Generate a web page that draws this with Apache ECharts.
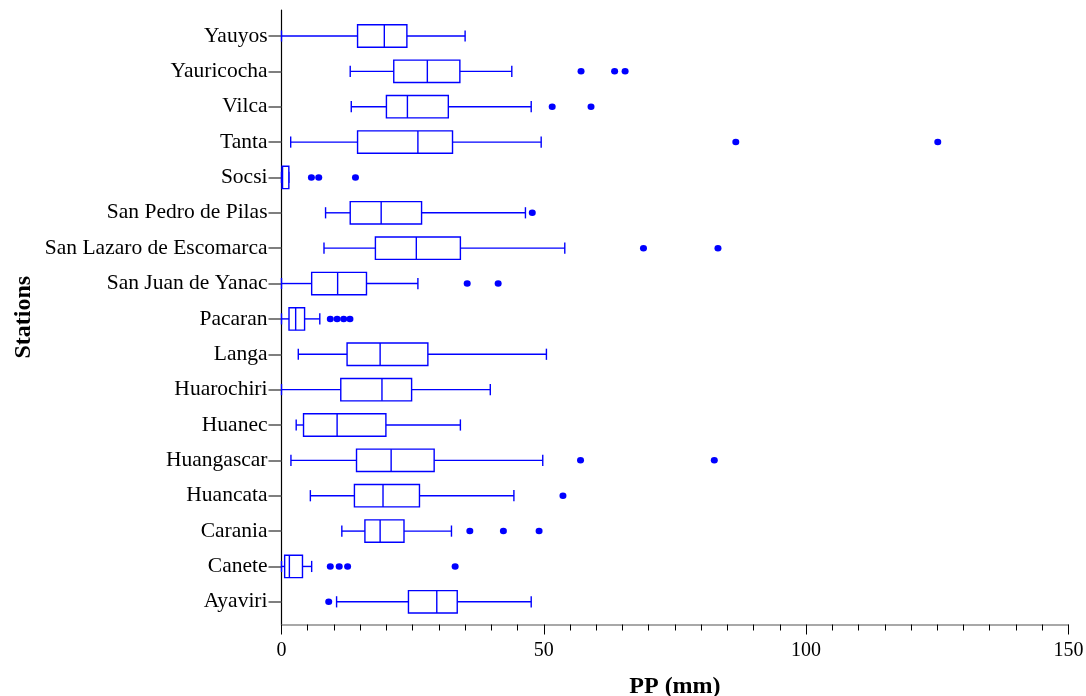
<!DOCTYPE html>
<html>
<head>
<meta charset="utf-8">
<script src="https://cdn.jsdelivr.net/npm/echarts@6/dist/echarts.min.js"></script>
<style>html,body{margin:0;padding:0;background:#fff;}#c{width:1086px;height:696px;}</style>
</head>
<body>
<div id="c"></div>
<script>
var stations = ['Ayaviri','Canete','Carania','Huancata','Huangascar','Huanec','Huarochiri','Langa','Pacaran','San Juan de Yanac','San Lazaro de Escomarca','San Pedro de Pilas','Socsi','Tanta','Vilca','Yauricocha','Yauyos'];
var lows    = [10.5, 0,   11.5, 5.5,  1.8,  2.8,  0,     3.2,  0,    0,    8.1,  8.4,  0,   1.75, 13.3, 13.1, 0];
var q1s     = [24.2, 0.6, 15.9, 13.9, 14.3, 4.2,  11.3,  12.5, 1.43, 5.75, 17.9, 13.1, 0.1, 14.5, 20.0, 21.4, 14.5];
var medians = [29.6, 1.5, 18.8, 19.35,20.9, 10.6, 19.15, 18.8, 2.7,  10.7, 25.7, 19.0, 0.2, 26.0, 24.0, 27.8, 19.6];
var q3s     = [33.5, 4.0, 23.35,26.3, 29.1, 19.9, 24.8,  27.9, 4.4,  16.2, 34.1, 26.7, 1.4, 32.6, 31.8, 34.0, 23.9];
var highs   = [47.6, 5.75,32.4, 44.3, 49.8, 34.1, 39.8,  50.5, 7.3,  26.0, 54.0, 46.5, 1.4, 49.5, 47.6, 43.9, 35.0];
var outliers = [
  [9.0],
  [9.3, 11.0, 12.6, 33.1],
  [35.9, 42.3, 49.1],
  [53.65],
  [57.0, 82.5],
  [],
  [],
  [],
  [9.3, 10.6, 11.85, 13.05],
  [35.4, 41.3],
  [69.0, 83.2],
  [47.8],
  [5.7, 7.1, 14.1],
  [86.6, 125.1],
  [51.6, 59.0],
  [57.1, 63.5, 65.5],
  []
];
var xTicks = [0, 50, 100, 150];

var boxData = stations.map(function (s, i) {
  return [i, lows[i], q1s[i], medians[i], q3s[i], highs[i]];
});
var outData = [];
outliers.forEach(function (arr, i) {
  arr.forEach(function (v) { outData.push([v, i]); });
});

var BLUE = '#0000ff';
var FONT = 'Liberation Serif';
var L = 281.5, W = 786.9;

var chart = echarts.init(document.getElementById('c'), null, {renderer: 'canvas'});
chart.setOption({
  animation: false,
  backgroundColor: '#fff',
  grid: [
    {left: L, width: W, top: 18.3, height: 601.2, containLabel: false, outerBoundsMode: 'none'},
    {left: L, width: W, top: 10, height: 614.5, containLabel: false, outerBoundsMode: 'none'}
  ],
  xAxis: [
    {gridIndex: 0, type: 'value', min: xTicks[0], max: xTicks[xTicks.length - 1], show: false},
    {gridIndex: 1, type: 'value', min: xTicks[0], max: xTicks[xTicks.length - 1], interval: 50,
      axisLine: {show: true, lineStyle: {color: '#8c8c8c', width: 1.5}},
      axisTick: {show: true, length: 10, lineStyle: {color: '#000', width: 1}},
      minorTick: {show: true, splitNumber: 10, length: 6, lineStyle: {color: '#000', width: 1}},
      splitLine: {show: false},
      axisLabel: {fontFamily: FONT, fontSize: 20, color: '#000', margin: 16},
      name: 'PP (mm)', nameLocation: 'middle', nameGap: 50,
      nameTextStyle: {fontFamily: FONT, fontSize: 24, fontWeight: 'bold', color: '#000'}
    }
  ],
  yAxis: [
    {gridIndex: 0, type: 'category', data: stations, boundaryGap: true,
      axisLine: {show: false},
      axisTick: {show: true, alignWithLabel: true, length: 13, lineStyle: {color: '#555', width: 1.5}},
      axisLabel: {fontFamily: FONT, fontSize: 21.5, color: '#000', margin: 14, interval: 0},
      splitLine: {show: false}
    },
    {gridIndex: 1, type: 'value', min: 0, max: 1,
      axisLine: {show: true, lineStyle: {color: '#000', width: 1.2}},
      axisTick: {show: false}, axisLabel: {show: false}, splitLine: {show: false},
      name: 'Stations', nameLocation: 'middle', nameRotate: 90, nameGap: 246,
      nameTextStyle: {fontFamily: FONT, fontSize: 24, fontWeight: 'bold', color: '#000'}
    }
  ],
  series: [
    {
      type: 'custom', xAxisIndex: 0, yAxisIndex: 0,
      data: boxData,
      encode: {y: 0, x: [1, 2, 3, 4, 5]},
      renderItem: function (params, api) {
        var c = api.value(0);
        var pLow = api.coord([api.value(1), c]);
        var pQ1 = api.coord([api.value(2), c]);
        var pMed = api.coord([api.value(3), c]);
        var pQ3 = api.coord([api.value(4), c]);
        var pHigh = api.coord([api.value(5), c]);
        var y = pMed[1];
        var bh = 11.2, ch = 5.6;
        var st = {stroke: BLUE, lineWidth: 1.4, fill: null};
        return {
          type: 'group',
          children: [
            {type: 'line', shape: {x1: pLow[0], y1: y, x2: pQ1[0], y2: y}, style: st},
            {type: 'line', shape: {x1: pQ3[0], y1: y, x2: pHigh[0], y2: y}, style: st},
            {type: 'line', shape: {x1: pLow[0], y1: y - ch, x2: pLow[0], y2: y + ch}, style: st},
            {type: 'line', shape: {x1: pHigh[0], y1: y - ch, x2: pHigh[0], y2: y + ch}, style: st},
            {type: 'rect', shape: {x: pQ1[0], y: y - bh, width: pQ3[0] - pQ1[0], height: 2 * bh}, style: {stroke: BLUE, lineWidth: 1.4, fill: '#fff'}},
            {type: 'line', shape: {x1: pMed[0], y1: y - bh, x2: pMed[0], y2: y + bh}, style: st}
          ]
        };
      }
    },
    {
      type: 'scatter', xAxisIndex: 0, yAxisIndex: 0,
      data: outData, symbol: 'circle', symbolSize: [7, 6.5],
      itemStyle: {color: BLUE, opacity: 1}
    }
  ]
});
</script>
</body>
</html>
